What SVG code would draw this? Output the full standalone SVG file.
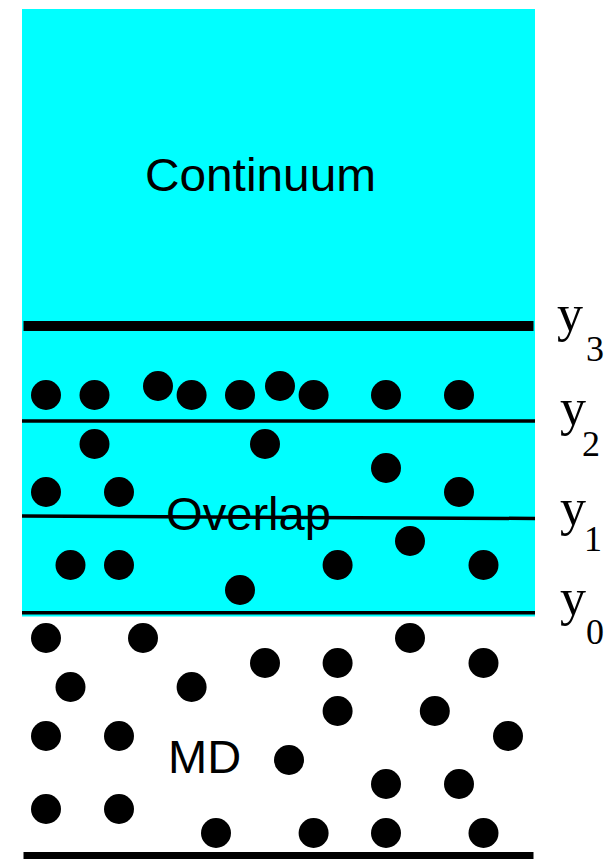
<svg xmlns="http://www.w3.org/2000/svg" width="607" height="859" viewBox="0 0 607 859">
<style>
.lbl{font-family:"Liberation Sans",Arial,sans-serif;font-size:47px;fill:#000}
.ax{font-family:"Liberation Serif","Times New Roman",serif;fill:#000}
.y{font-size:52px}
.s{font-size:36px}
.thin{stroke:#000;stroke-width:3.5;fill:none}
.dot{fill:#000}
</style>
<defs>
<circle id="d" r="15"/>
</defs>
<rect x="0" y="0" width="607" height="859" fill="#fff"/>
<g id="regions">
<rect id="cyan" x="22" y="9" width="513" height="607.5" fill="#00ffff"/>
</g>
<g id="lines">
<rect id="y3line" x="23.5" y="321" width="510" height="10" fill="#000"/>
<line id="y2line" class="thin" x1="22" y1="421" x2="535" y2="421"/>
<line id="y1line" class="thin" x1="22" y1="516" x2="535" y2="518.5"/>
<line id="y0line" class="thin" x1="22" y1="612.8" x2="535" y2="612.8"/>
<rect id="bottomline" x="23.5" y="852" width="510" height="10" fill="#000"/>
</g>
<g id="dots" class="dot">
<use href="#d" x="46" y="395"/>
<use href="#d" x="94.5" y="395"/>
<use href="#d" x="158" y="386"/>
<use href="#d" x="191.6" y="395"/>
<use href="#d" x="240" y="395"/>
<use href="#d" x="280" y="386"/>
<use href="#d" x="313.6" y="395"/>
<use href="#d" x="386" y="395"/>
<use href="#d" x="459" y="395"/>
<use href="#d" x="94.5" y="444"/>
<use href="#d" x="265" y="444"/>
<use href="#d" x="386" y="468"/>
<use href="#d" x="46" y="492"/>
<use href="#d" x="119" y="492"/>
<use href="#d" x="459" y="492"/>
<use href="#d" x="410" y="541"/>
<use href="#d" x="70.5" y="565"/>
<use href="#d" x="119" y="565"/>
<use href="#d" x="337.6" y="565"/>
<use href="#d" x="483.5" y="565"/>
<use href="#d" x="240" y="590"/>
<use href="#d" x="46" y="638"/>
<use href="#d" x="143" y="638"/>
<use href="#d" x="410" y="638"/>
<use href="#d" x="265" y="663"/>
<use href="#d" x="337.6" y="663"/>
<use href="#d" x="483.5" y="663"/>
<use href="#d" x="70.5" y="687"/>
<use href="#d" x="191.6" y="687"/>
<use href="#d" x="337.6" y="711"/>
<use href="#d" x="434.8" y="711"/>
<use href="#d" x="46" y="736"/>
<use href="#d" x="119" y="736"/>
<use href="#d" x="508" y="736"/>
<use href="#d" x="289" y="760"/>
<use href="#d" x="386" y="784"/>
<use href="#d" x="459" y="784"/>
<use href="#d" x="46" y="809"/>
<use href="#d" x="119" y="809"/>
<use href="#d" x="216" y="833"/>
<use href="#d" x="313.6" y="833"/>
<use href="#d" x="386" y="833"/>
<use href="#d" x="483.5" y="833"/>
</g>
<g id="labels">
<text class="lbl" x="145" y="191" textLength="231" lengthAdjust="spacingAndGlyphs">Continuum</text>
<text class="lbl" x="166" y="530" textLength="165" lengthAdjust="spacingAndGlyphs">Overlap</text>
<text class="lbl" x="168" y="773">MD</text>
</g>
<g id="axis-labels">
<g id="y3"><text class="ax y" x="557" y="331">y</text><text class="ax s" x="586" y="361">3</text></g>
<g id="y2"><text class="ax y" x="560" y="425">y</text><text class="ax s" x="582" y="456">2</text></g>
<g id="y1"><text class="ax y" x="560" y="525">y</text><text class="ax s" x="584" y="551">1</text></g>
<g id="y0"><text class="ax y" x="560" y="615">y</text><text class="ax s" x="586" y="644">0</text></g>
</g>
</svg>
